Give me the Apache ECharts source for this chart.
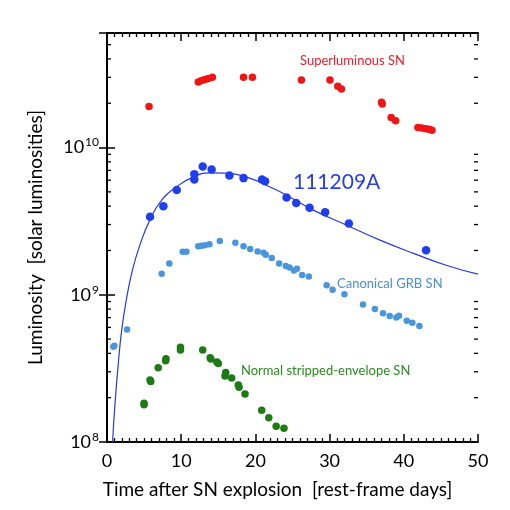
<!DOCTYPE html>
<html>
<head>
<meta charset="utf-8">
<script src="https://cdn.jsdelivr.net/npm/echarts@6/dist/echarts.min.js"></script>
<style>
  html, body {margin: 0; padding: 0; background: #fff;}
  #chart {width: 510px; height: 510px;}
</style>
</head>
<body>
<div id="chart"></div>
<script>
// superluminous SN
const slX = [5.66, 12.3, 12.75, 13.2, 13.65, 14.2, 18.4, 19.6, 26.2, 30.05, 31.1, 31.6, 37.0, 37.1, 38.3, 38.9, 41.9, 42.4, 42.95, 43.4, 43.8];
const slY = [1.9e10, 2.79e10, 2.85e10, 2.9e10, 2.94e10, 3.0e10, 3.0e10, 3.0e10, 2.88e10, 2.88e10, 2.61e10, 2.5e10, 2.03e10, 1.98e10, 1.6e10, 1.52e10, 1.37e10, 1.36e10, 1.34e10, 1.33e10, 1.31e10];

// 111209A
const grbX = [5.8, 7.6, 9.4, 11.77, 11.77, 12.9, 14.1, 16.5, 18.4, 20.9, 21.3, 24.2, 25.5, 27.3, 29.4, 32.6, 43.0];
const grbY = [3.39e9, 4.0e9, 5.14e9, 6.6e9, 6.07e9, 7.45e9, 7.1e9, 6.47e9, 6.2e9, 6.07e9, 5.9e9, 4.58e9, 4.2e9, 3.9e9, 3.64e9, 3.05e9, 2.01e9];

// model curve for 111209A
const fitX = [0.75, 1.08, 1.52, 1.98, 2.6, 3.4, 4.45, 5.8, 7.4, 9.4, 11.6, 13.9, 16.1, 19.3, 22.4, 24.2, 27.8, 32.3, 36.8, 41.3, 45.8, 50];
const fitY = [1.0e8, 1.83e8, 3.4e8, 5.75e8, 9.2e8, 1.45e9, 2.19e9, 3.24e9, 4.42e9, 5.43e9, 6.3e9, 6.73e9, 6.7e9, 6.17e9, 5.27e9, 4.75e9, 3.76e9, 2.97e9, 2.35e9, 1.91e9, 1.58e9, 1.38e9];

// canonical GRB SN
const canX = [0.85, 1.0, 2.7, 7.37, 8.4, 10.2, 10.7, 12.3, 12.75, 13.2, 13.8, 15.2, 17.3, 18.4, 19.3, 20.3, 21.1, 21.4, 22.2, 23.2, 24.1, 24.6, 25.2, 25.6, 26.3, 27.2, 29.6, 30.4, 32.0, 34.5, 36.1, 37.2, 38.1, 39.0, 39.35, 40.4, 41.15, 42.1];
const canY = [4.44e8, 4.5e8, 5.82e8, 1.39e9, 1.63e9, 1.96e9, 1.96e9, 2.14e9, 2.15e9, 2.17e9, 2.2e9, 2.32e9, 2.26e9, 2.14e9, 2.05e9, 1.97e9, 1.93e9, 1.87e9, 1.78e9, 1.63e9, 1.57e9, 1.53e9, 1.46e9, 1.5e9, 1.36e9, 1.33e9, 1.16e9, 1.08e9, 1.01e9, 8.6e8, 8.0e8, 7.48e8, 7.17e8, 7.0e8, 7.2e8, 6.65e8, 6.45e8, 6.14e8];

// normal stripped-envelope SN
const nseX = [4.99, 4.99, 5.8, 5.9, 6.9, 7.9, 7.95, 9.9, 9.9, 12.9, 13.9, 14.0, 14.8, 15.0, 16.0, 15.9, 16.8, 17.7, 17.8, 18.6, 20.85, 21.8, 22.8, 23.85];
const nseY = [1.83e8, 1.79e8, 2.64e8, 2.58e8, 3.19e8, 3.56e8, 3.68e8, 4.41e8, 4.22e8, 4.22e8, 3.73e8, 3.66e8, 3.49e8, 3.42e8, 2.97e8, 2.81e8, 2.72e8, 2.44e8, 2.35e8, 2.12e8, 1.64e8, 1.46e8, 1.28e8, 1.24e8];

const yMinorTicks = [2e8, 3e8, 4e8, 5e8, 6e8, 7e8, 8e8, 9e8, 2e9, 3e9, 4e9, 5e9, 6e9, 7e9, 8e9, 9e9, 2e10, 3e10, 4e10, 5e10];

const pairs = (xs, ys) => xs.map((x, i) => [x, ys[i]]);

const FONT = 'Lato';
const axisLine = {show: true, lineStyle: {color: '#000', width: 2}};

const myChart = echarts.init(document.getElementById('chart'));

const xBase = {
  type: 'value',
  min: 0,
  max: 50,
  interval: 10,
  axisLine,
  splitLine: {show: false},
  axisTick: {inside: true, length: 8, lineStyle: {color: '#000', width: 1.5}},
  minorTick: {show: true, splitNumber: 10, length: 4, lineStyle: {color: '#000', width: 1.3}}
};
const yBase = {
  type: 'log',
  logBase: 10,
  min: 1e8,
  max: 6e10,
  axisLine,
  splitLine: {show: false},
  axisTick: {inside: true, length: 8, lineStyle: {color: '#000', width: 1.5}}
};

const supFmt = v => {
  const e = Math.log10(v);
  if (Math.abs(e - Math.round(e)) > 1e-6) return '';
  return '10{sup|' + Math.round(e) + '}';
};

myChart.setOption({
  animation: false,
  backgroundColor: '#fff',
  textStyle: {fontFamily: FONT},
  grid: {left: 107, right: 32, top: 33, bottom: 68},
  xAxis: [
    {
      ...xBase,
      position: 'bottom',
      name: 'Time after SN explosion  [rest-frame days]',
      nameLocation: 'middle',
      nameGap: 38,
      nameTextStyle: {fontFamily: FONT, fontSize: 19, color: '#000', padding: [0, 30, 0, 0]},
      axisLabel: {fontFamily: FONT, fontSize: 18, color: '#000', margin: 10}
    },
    {...xBase, position: 'top', axisLabel: {show: false}}
  ],
  yAxis: [
    {
      ...yBase,
      position: 'left',
      name: 'Luminosity  [solar luminosities]',
      nameLocation: 'middle',
      nameGap: 62,
      nameTextStyle: {fontFamily: FONT, fontSize: 19, color: '#000'},
      axisLabel: {
        formatter: supFmt,
        showMaxLabel: false,
        margin: 8,
        color: '#000',
        fontFamily: FONT,
        fontSize: 18,
        rich: {sup: {fontSize: 12, verticalAlign: 'top', padding: [0, 0, 10, 1], fontFamily: FONT, color: '#000'}}
      }
    },
    {...yBase, position: 'right', axisLabel: {show: false}}
  ],
  graphic: [
    {type: 'text', left: 300, top: 54, style: {text: 'Superluminous SN', fill: '#e8202a', font: '13px ' + FONT}},
    {type: 'text', left: 293, top: 172, style: {text: '111209A', fill: '#2a40e0', font: '21px ' + FONT}},
    {type: 'text', left: 337, top: 277, style: {text: 'Canonical GRB SN', fill: '#4a8ed4', font: '13px ' + FONT}},
    {type: 'text', left: 241, top: 364, style: {text: 'Normal stripped-envelope SN', fill: '#2a8a20', font: '13px ' + FONT}}
  ],
  series: [
    {
      type: 'custom',
      coordinateSystem: 'cartesian2d',
      data: yMinorTicks.map(v => [0, v]),
      encode: {x: 0, y: 1},
      silent: true,
      clip: false,
      renderItem(params, api) {
        const p = api.coord([0, api.value(1)]);
        const cs = params.coordSys;
        const style = {stroke: '#000', lineWidth: 1.3};
        return {
          type: 'group',
          children: [
            {type: 'line', shape: {x1: cs.x, y1: p[1], x2: cs.x + 4, y2: p[1]}, style},
            {type: 'line', shape: {x1: cs.x + cs.width - 4, y1: p[1], x2: cs.x + cs.width, y2: p[1]}, style}
          ]
        };
      }
    },
    {
      type: 'line',
      data: pairs(fitX, fitY),
      smooth: 0.5,
      showSymbol: false,
      lineStyle: {color: '#2a3ad8', width: 1.2},
      z: 2
    },
    {type: 'scatter', data: pairs(slX, slY), symbolSize: 7.5, itemStyle: {color: '#f01414', opacity: 1}, z: 3},
    {type: 'scatter', data: pairs(grbX, grbY), symbolSize: 8.5, itemStyle: {color: '#1f3ef0', opacity: 1}, z: 3},
    {type: 'scatter', data: pairs(canX, canY), symbolSize: 6.5, itemStyle: {color: '#4a96dc', opacity: 1}, z: 3},
    {type: 'scatter', data: pairs(nseX, nseY), symbolSize: 7.5, itemStyle: {color: '#1e7a14', opacity: 1}, z: 3}
  ]
});
</script>
</body>
</html>
